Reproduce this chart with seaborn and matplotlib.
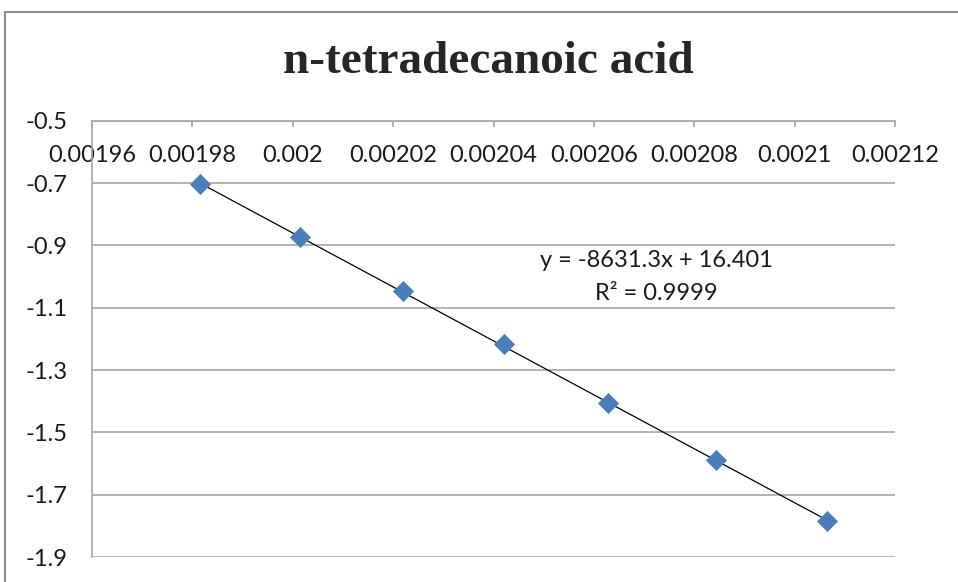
import matplotlib
matplotlib.use("Agg")
import matplotlib.pyplot as plt
import seaborn as sns
import pandas as pd
from matplotlib.patches import Rectangle

# Data
inv_T = [0.0019815, 0.0020014, 0.0020220, 0.0020421, 0.0020629, 0.0020843, 0.0021065]
ln_k = [-0.704, -0.874, -1.048, -1.218, -1.406, -1.589, -1.786]
x_ticks = [0.00196, 0.00198, 0.002, 0.00202, 0.00204, 0.00206, 0.00208, 0.0021, 0.00212]
x_tick_labels = ["0.00196", "0.00198", "0.002", "0.00202", "0.00204", "0.00206", "0.00208", "0.0021", "0.00212"]
y_ticks = [-0.5, -0.7, -0.9, -1.1, -1.3, -1.5, -1.7, -1.9]
y_tick_labels = ["-0.5", "-0.7", "-0.9", "-1.1", "-1.3", "-1.5", "-1.7", "-1.9"]
title = "n-tetradecanoic acid"
eq_text = "y = -8631.3x + 16.401"
r2_text = "R² = 0.9999"

df = pd.DataFrame({"x": inv_T, "y": ln_k})

sns.set_style("white")
plt.rcParams["font.family"] = ["Lato", "DejaVu Sans"]

W, H = 958, 582
fig = plt.figure(figsize=(W / 100, H / 100), dpi=100)
fig.patch.set_facecolor("white")

# chart border
fig.add_artist(Rectangle((5 / W, -0.05), 1.1, 1 - 12 / H + 0.05, transform=fig.transFigure,
                         fill=False, edgecolor="#8c8c8c", linewidth=1.5))

ax = fig.add_axes([92 / W, 1 - 557 / H, (895 - 92) / W, (557 - 120.7) / H])

sns.regplot(data=df, x="x", y="y", scatter=False, ci=None, truncate=True,
            line_kws={"color": "black", "linewidth": 0.9}, ax=ax)
sns.scatterplot(data=df, x="x", y="y", marker="D", s=105, color="#4a7ebb",
                edgecolor="#4a7ebb", linewidth=0.5, ax=ax, zorder=3)

ax.set_xlim(0.00196, 0.00212)
ax.set_ylim(-1.9, -0.5)
ax.set_xlabel("")
ax.set_ylabel("")

ax.yaxis.grid(True, color="#a6a6a6", linewidth=1.2)
ax.xaxis.grid(False)
ax.set_axisbelow(True)

for s in ["right", "bottom"]:
    ax.spines[s].set_visible(False)
for s in ["left", "top"]:
    ax.spines[s].set_visible(True)
    ax.spines[s].set_color("#a6a6a6")
    ax.spines[s].set_linewidth(1.2)

fs = 17
ax.xaxis.tick_top()
ax.set_xticks(x_ticks)
ax.set_xticklabels(x_tick_labels, fontsize=fs, color="#1a1a1a")
ax.tick_params(axis="x", direction="in", length=4.5, width=1.2, color="#a6a6a6", pad=-32.5)
ax.set_yticks(y_ticks)
ax.set_yticklabels(y_tick_labels, fontsize=fs, color="#1a1a1a")
ax.tick_params(axis="y", direction="out", length=6.5, width=1.2, color="#a6a6a6", pad=11)
ax.tick_params(axis="x", which="both", top=True, bottom=False)

ax.text(0.0020724, -0.949, eq_text, fontsize=fs, ha="center", va="center", color="#1a1a1a")
ax.text(0.0020724, -1.056, r2_text, fontsize=fs, ha="center", va="center", color="#1a1a1a")

fig.text(488 / W, 1 - 62 / H, title, fontsize=34, fontweight="bold",
         family=["Liberation Serif", "DejaVu Serif"], ha="center", va="center")

fig.savefig("out.png", dpi=100)
